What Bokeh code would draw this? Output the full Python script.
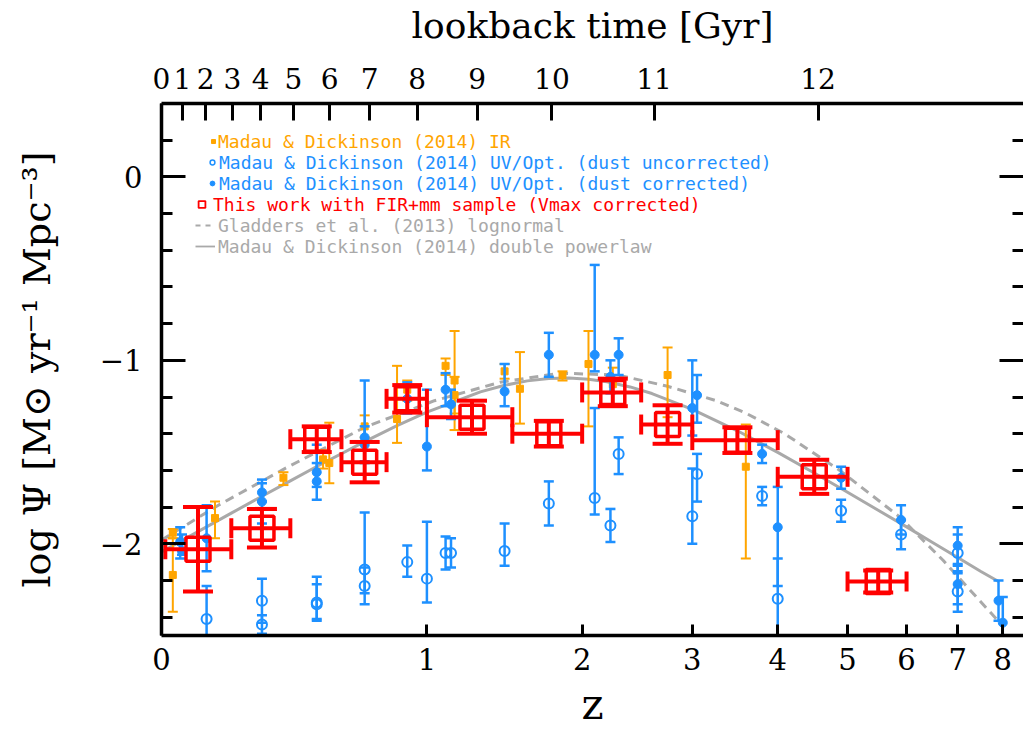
import numpy as np
from bokeh.plotting import figure
from bokeh.models import (ColumnDataSource, Range1d, FixedTicker, LogAxis, LinearAxis,
                          Legend, LegendItem, CustomJSTickFormatter)
from bokeh.core.properties import value
from bokeh.embed import file_html
from bokeh.resources import INLINE

# ---------------------------------------------------------------- data
# Madau & Dickinson (2014) IR compilation, log SFRD
ir_z = [0.03, 0.03, 0.15, 0.375, 0.525, 0.55, 0.70, 0.85, 0.90, 1.10, 1.15, 1.15,
        1.45, 1.55, 1.85, 2.05, 2.25, 2.75, 3.60]
ir_sfrd = [-1.94, -2.17, -1.86, -1.64, -1.54, -1.56, -1.36, -1.32, -1.16, -1.03, -1.11, -1.19,
           -1.06, -1.155, -1.08, -1.02, -1.13, -1.08, -1.58]
ir_err_hi = [0.02, 0.20, 0.09, 0.03, 0.05, 0.22, 0.06, 0.29, 0.05, 0.04, 0.27, 0.10,
             0.04, 0.20, 0.02, 0.18, 0.09, 0.15, 0.23]
ir_err_lo = [0.03, 0.20, 0.11, 0.04, 0.05, 0.11, 0.06, 0.13, 0.06, 0.05, 0.27, 0.10,
             0.04, 0.19, 0.03, 0.34, 0.12, 0.23, 0.50]

# UV/optical, dust corrected
uvc_z = [0.05, 0.055, 0.125, 0.30, 0.30, 0.50, 0.50, 0.70, 0.70, 0.90, 1.00, 1.10, 1.13,
         1.45, 1.75, 2.10, 2.23, 2.30, 3.00, 3.05, 3.80, 4.00, 4.90, 5.90, 7.00, 7.00, 7.90, 8.00]
uvc_sfrd = [-1.99, -2.04, -1.97, -1.72, -1.77, -1.61, -1.66, -1.42, -1.46, -1.21, -1.47, -1.16, -1.24,
            -1.17, -0.97, -0.97, -1.09, -0.97, -1.26, -1.19, -1.51, -1.91, -1.64, -1.87, -2.01, -2.22,
            -2.31, -2.43]
uvc_err_hi = [0.08, 0.09, 0.18, 0.05, 0.12, 0.15, 0.10, 0.31, 0.10, 0.09, 0.31, 0.09, 0.08,
              0.15, 0.12, 0.49, 0.09, 0.09, 0.26, 0.11, 0.05, 0.22, 0.06, 0.08, 0.10, 0.10, 0.11, 0.14]
uvc_err_lo = [0.09, 0.02, 0.18, 0.05, 0.12, 0.08, 0.10, 0.13, 0.10, 0.08, 0.13, 0.09, 0.08,
              0.08, 0.12, 0.09, 0.09, 0.11, 0.15, 0.15, 0.05, 0.32, 0.06, 0.08, 0.10, 0.11, 0.11, 0.14]

# UV/optical, no dust correction
uvu_z = [0.125, 0.30, 0.30, 0.50, 0.50, 0.70, 0.70, 0.90, 1.00, 1.10, 1.13, 1.45, 1.75,
         2.10, 2.23, 2.30, 3.00, 3.05, 3.80, 4.00, 4.90, 5.90, 7.00, 7.00]
uvu_sfrd = [-2.41, -2.31, -2.44, -2.32, -2.33, -2.14, -2.23, -2.10, -2.19, -2.05, -2.05, -2.04, -1.78,
            -1.75, -1.90, -1.51, -1.85, -1.62, -1.74, -2.30, -1.82, -1.95, -2.05, -2.26]
uvu_err_hi = [0.18, 0.12, 0.05, 0.10, 0.15, 0.31, 0.10, 0.09, 0.31, 0.09, 0.08, 0.15, 0.12,
              0.49, 0.09, 0.09, 0.26, 0.11, 0.05, 0.22, 0.06, 0.08, 0.10, 0.10]
uvu_err_lo = [0.18, 0.12, 0.05, 0.10, 0.08, 0.13, 0.10, 0.08, 0.13, 0.09, 0.08, 0.08, 0.12,
              0.09, 0.09, 0.11, 0.15, 0.15, 0.05, 0.32, 0.06, 0.08, 0.10, 0.11]

# This work: FIR+mm sample, Vmax corrected
tw_z = [0.10, 0.30, 0.50, 0.70, 0.90, 1.25, 1.75, 2.25, 2.75, 3.50, 4.50, 5.50]
tw_z_lo = [0.01, 0.20, 0.40, 0.60, 0.80, 1.00, 1.50, 2.00, 2.50, 3.00, 4.00, 5.00]
tw_z_hi = [0.20, 0.40, 0.60, 0.80, 1.00, 1.50, 2.00, 2.50, 3.00, 4.00, 5.00, 6.00]
tw_sfrd = [-2.03, -1.915, -1.43, -1.555, -1.21, -1.31, -1.40, -1.175, -1.35, -1.435, -1.635, -2.205]
tw_err = [0.23, 0.105, 0.07, 0.11, 0.075, 0.09, 0.07, 0.075, 0.105, 0.07, 0.093, 0.06]

# Madau & Dickinson (2014) double power law
md14_z = [0.0, 0.1, 0.2, 0.3, 0.4, 0.5, 0.7, 0.85, 1.0, 1.3, 1.45, 1.6, 1.75, 1.9, 2.05,
          2.2, 2.4, 2.6, 3.0, 3.5, 4.0, 4.5, 5.0, 5.5, 6.0, 6.5, 7.0, 7.5, 7.9]
md14_sfrd = [-2.045, -1.934, -1.833, -1.741, -1.657, -1.579, -1.443, -1.356, -1.282, -1.172,
             -1.136, -1.112, -1.099, -1.097, -1.103, -1.117, -1.145, -1.181, -1.267, -1.384,
             -1.502, -1.614, -1.719, -1.817, -1.908, -1.994, -2.075, -2.151, -2.206]

# Gladders et al. (2013) lognormal
g13_z = [0.0, 0.16, 0.38, 0.70, 1.04, 1.42, 1.83, 2.29, 2.74, 3.26, 3.61, 4.09, 4.88,
         5.88, 6.70, 7.85, 8.0]
g13_sfrd = [-1.98, -1.79, -1.59, -1.365, -1.22, -1.12, -1.07, -1.08, -1.14, -1.22, -1.29,
            -1.40, -1.60, -1.855, -2.09, -2.41, -2.45]

# axis ticks
z_ticks = [0, 1, 2, 3, 4, 5, 6, 7, 8]
lookback_gyr = [0, 1, 2, 3, 4, 5, 6, 7, 8, 9, 10, 11, 12]
lookback_z = [0.0, 0.056, 0.1225, 0.2035, 0.296, 0.411, 0.551, 0.722, 0.950, 1.280, 1.772, 2.620, 4.556]
y_major = [-2, -1, 0]
y_major_labels = ["\u22122", "\u22121", "0"]
y_minor = [-2.4, -2.2, -1.8, -1.6, -1.4, -1.2, -0.8, -0.6, -0.4, -0.2, 0.2]

# ---------------------------------------------------------------- style
ORANGE = "#FFA500"
BLUE = "#1E90FF"
RED = "#FF0000"
GRAY = "#A9A9A9"
SERIF = "DejaVu Serif"
MONO = "DejaVu Sans Mono"

p = figure(width=1023, height=732, x_axis_type="log",
           x_range=Range1d(1.0, 9.5), y_range=Range1d(-2.5, 0.4),
           output_backend="svg", toolbar_location=None,
           min_border_left=161, min_border_right=0, min_border_top=103, min_border_bottom=97)
p.outline_line_color = None
p.grid.visible = False
p.background_fill_color = "white"
p.border_fill_color = "white"

FMT = ("const i = pos.findIndex(v => Math.abs(v - tick) < 1e-6 * Math.abs(v) + 1e-9);"
       "return i < 0 ? '' : labels[i];")


def style_axis(ax, tick_in, minor_in=0, label_size="29px", standoff=12):
    ax.axis_line_width = 3.5
    ax.axis_line_color = "black"
    ax.major_tick_line_width = 3
    ax.minor_tick_line_width = 3
    ax.major_tick_in = tick_in
    ax.major_tick_out = 0
    ax.minor_tick_in = minor_in
    ax.minor_tick_out = 0
    ax.major_label_text_font = SERIF
    ax.major_label_text_font_size = label_size
    ax.major_label_text_color = "black"
    ax.major_label_standoff = standoff
    ax.axis_label_text_font = SERIF
    ax.axis_label_text_font_style = "normal"
    ax.axis_label_text_color = "black"


# bottom: redshift on a log(1+z) scale
xb = p.below[0]
zpos = [1.0 + z for z in z_ticks]
xb.ticker = FixedTicker(ticks=zpos, minor_ticks=[])
xb.formatter = CustomJSTickFormatter(args=dict(pos=zpos, labels=[str(z) for z in z_ticks]), code=FMT)
style_axis(xb, 11, standoff=12)
xb.axis_label = "z"
xb.axis_label_text_font_size = "42px"
xb.axis_label_standoff = 7

# left: log SFRD
yl = p.left[0]
yl.ticker = FixedTicker(ticks=y_major, minor_ticks=y_minor)
yl.formatter = CustomJSTickFormatter(args=dict(pos=y_major, labels=y_major_labels), code=FMT)
style_axis(yl, 24, 11, standoff=19)
yl.axis_label = "log \u03a8 [M\u2299 yr\u207b\u00b9 Mpc\u207b\u00b3]"
yl.axis_label_text_font_size = "38px"
yl.axis_label_standoff = 38

# right: ticks only
yr = LinearAxis(ticker=FixedTicker(ticks=y_major, minor_ticks=y_minor),
                formatter=CustomJSTickFormatter(code="return '';"))
style_axis(yr, 24, 11, label_size="0px", standoff=0)
yr.axis_line_color = None
p.add_layout(yr, "right")

# top: lookback time
tpos = [1.0 + z for z in lookback_z]
xt = LogAxis(ticker=FixedTicker(ticks=tpos, minor_ticks=[]),
             formatter=CustomJSTickFormatter(args=dict(pos=tpos, labels=[str(t) for t in lookback_gyr]),
                                             code=FMT))
style_axis(xt, 17, label_size="28px", standoff=15)
xt.axis_label = "lookback time [Gyr]"
xt.axis_label_text_font_size = "36px"
xt.axis_label_standoff = 19
p.add_layout(xt, "above")


# ---------------------------------------------------------------- drawing helpers
def yerr_bars(z, y, hi, lo, color, lw, cap):
    x = 1.0 + np.asarray(z, dtype=float)
    y = np.asarray(y, dtype=float)
    src = ColumnDataSource(dict(x=x, top=y + np.asarray(hi), bot=y - np.asarray(lo)))
    p.segment(x0="x", y0="bot", x1="x", y1="top", source=src, line_color=color, line_width=lw)
    for end in ("top", "bot"):
        p.scatter(x="x", y=end, source=src, marker="dash", size=cap,
                  line_color=color, line_width=lw)


def xerr_bars(z_lo, z_hi, y, color, lw, cap):
    src = ColumnDataSource(dict(x0=1.0 + np.asarray(z_lo), x1=1.0 + np.asarray(z_hi),
                                y=np.asarray(y, dtype=float)))
    p.segment(x0="x0", y0="y", x1="x1", y1="y", source=src, line_color=color, line_width=lw)
    for end in ("x0", "x1"):
        p.scatter(x=end, y="y", source=src, marker="dash", angle=np.pi / 2, size=cap,
                  line_color=color, line_width=lw)


# model curves
p.line(1.0 + np.asarray(md14_z), md14_sfrd, line_color=GRAY, line_width=3)
p.line(1.0 + np.asarray(g13_z), g13_sfrd, line_color=GRAY, line_width=3, line_dash="9 6")

# IR points
yerr_bars(ir_z, ir_sfrd, ir_err_hi, ir_err_lo, ORANGE, 2, 10)
p.scatter(1.0 + np.asarray(ir_z), ir_sfrd, marker="square", size=7,
          fill_color=ORANGE, line_color=ORANGE)

# UV/optical, uncorrected
yerr_bars(uvu_z, uvu_sfrd, uvu_err_hi, uvu_err_lo, BLUE, 2.5, 10)
p.scatter(1.0 + np.asarray(uvu_z), uvu_sfrd, marker="circle", size=10,
          fill_color=None, line_color=BLUE, line_width=2)

# UV/optical, dust corrected
yerr_bars(uvc_z, uvc_sfrd, uvc_err_hi, uvc_err_lo, BLUE, 2.5, 10)
p.scatter(1.0 + np.asarray(uvc_z), uvc_sfrd, marker="circle", size=9,
          fill_color=BLUE, line_color=BLUE)

# this work
tw_zc = np.asarray(tw_z)
yerr_bars(tw_zc, tw_sfrd, tw_err, tw_err, RED, 4, 30)
xerr_bars(tw_z_lo, tw_z_hi, tw_sfrd, RED, 4, 20)
p.scatter(1.0 + tw_zc, tw_sfrd, marker="square", size=24,
          fill_color=None, line_color=RED, line_width=3.5)

# ---------------------------------------------------------------- legend
# key glyphs: one NaN point each so they draw only inside the legend
nan = [np.nan]
leg_ir = p.scatter(x=nan, y=nan, marker="square", fill_color=ORANGE, line_color=ORANGE)
leg_uvu = p.scatter(x=nan, y=nan, marker="circle", fill_color=None, line_color=BLUE, line_width=1.5)
leg_uvc = p.scatter(x=nan, y=nan, marker="circle", fill_color=BLUE, line_color=BLUE)
leg_tw = p.scatter(x=nan, y=nan, marker="square", fill_color=None, line_color=RED, line_width=1.8)
leg_g13 = p.line(x=[np.nan, np.nan], y=[np.nan, np.nan], line_color=GRAY, line_width=1.8,
                 line_dash="5 5")
leg_md = p.line(x=[np.nan, np.nan], y=[np.nan, np.nan], line_color=GRAY, line_width=1.8)

rows = [
    ("Madau & Dickinson (2014) IR", leg_ir, ORANGE, 47, 10, 0),
    ("Madau & Dickinson (2014) UV/Opt. (dust uncorrected)", leg_uvu, BLUE, 45, 12, 1),
    ("Madau & Dickinson (2014) UV/Opt. (dust corrected)", leg_uvc, BLUE, 45, 12, 1),
    ("This work with FIR+mm sample (Vmax corrected)", leg_tw, RED, 32, 17, 3),
    ("Gladders et al. (2013) lognormal", leg_g13, GRAY, 34, 20, 3),
    ("Madau & Dickinson (2014) double powerlaw", leg_md, GRAY, 34, 20, 3),
]
row_center = [141, 162, 183, 204, 225, 246]
frame_bottom = 635
for (label, rend, color, lx, gw, so), yc in zip(rows, row_center):
    leg = Legend(items=[LegendItem(label=value(label), renderers=[rend])],
                 location=(lx, frame_bottom - yc - 11),
                 glyph_width=gw, glyph_height=22, label_height=22, label_standoff=so,
                 label_text_font=MONO, label_text_font_size="18px", label_text_color=color,
                 padding=0, margin=0, spacing=0,
                 border_line_color=None, background_fill_alpha=0)
    p.add_layout(leg)

open("out.html", "w").write(file_html(p, INLINE))
